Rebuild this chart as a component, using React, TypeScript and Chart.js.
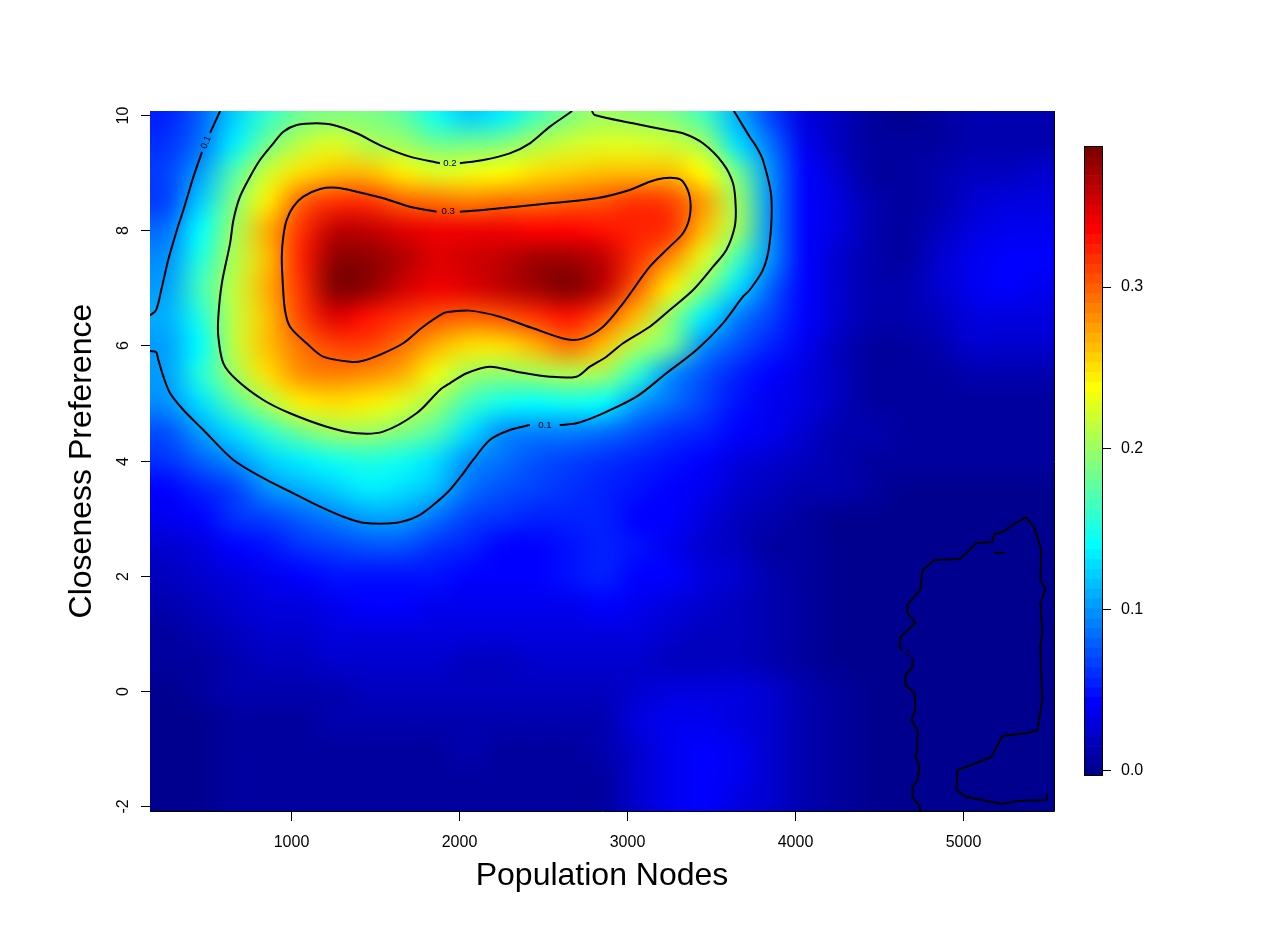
import React, { useEffect, useRef } from "react";
import { Chart, registerables } from "chart.js";

Chart.register(...registerables);

// ---------- data ----------
const populationNodes = [260, 460, 660, 860, 1060, 1260, 1460, 1660, 1860, 2060, 2260, 2460, 2660, 2860, 3060, 3260, 3460, 3660, 3860, 4060, 4260, 4460, 4660, 4860, 5060, 5260, 5460];
const closenessPreference = [10, 9.5, 9, 8.5, 8, 7.5, 7, 6.5, 6, 5.5, 5, 4.5, 4, 3.5, 3, 2.5, 2, 1.5, 1, 0.5, 0, -0.5, -1, -1.5, -2];

// density[row][col]; rows follow closenessPreference, columns follow populationNodes
const density: number[][] = [
  [0.055, 0.078, 0.12, 0.16, 0.18, 0.19, 0.19, 0.175, 0.145, 0.125, 0.135, 0.165, 0.19, 0.2, 0.195, 0.19, 0.165, 0.11, 0.065, 0.03, 0.02, 0.004, 0.003, 0.004, 0.01, 0.01, 0.01],
  [0.06, 0.088, 0.135, 0.185, 0.215, 0.225, 0.21, 0.2, 0.185, 0.18, 0.19, 0.21, 0.22, 0.225, 0.225, 0.22, 0.2, 0.13, 0.085, 0.035, 0.02, 0.005, 0.004, 0.008, 0.012, 0.014, 0.015],
  [0.068, 0.105, 0.17, 0.22, 0.25, 0.265, 0.26, 0.245, 0.225, 0.23, 0.24, 0.25, 0.255, 0.26, 0.265, 0.26, 0.235, 0.185, 0.097, 0.04, 0.025, 0.008, 0.005, 0.01, 0.016, 0.02, 0.022],
  [0.07, 0.125, 0.19, 0.245, 0.3, 0.315, 0.315, 0.3, 0.29, 0.288, 0.29, 0.293, 0.297, 0.303, 0.315, 0.31, 0.275, 0.2, 0.1, 0.045, 0.028, 0.012, 0.006, 0.014, 0.025, 0.03, 0.032],
  [0.085, 0.14, 0.2, 0.268, 0.32, 0.36, 0.36, 0.35, 0.34, 0.34, 0.34, 0.335, 0.335, 0.33, 0.325, 0.315, 0.26, 0.2, 0.1, 0.045, 0.028, 0.014, 0.008, 0.018, 0.03, 0.038, 0.036],
  [0.1, 0.155, 0.21, 0.265, 0.325, 0.38, 0.38, 0.365, 0.35, 0.355, 0.36, 0.37, 0.375, 0.36, 0.32, 0.28, 0.225, 0.165, 0.095, 0.042, 0.025, 0.012, 0.008, 0.022, 0.035, 0.045, 0.04],
  [0.102, 0.165, 0.215, 0.27, 0.32, 0.385, 0.38, 0.355, 0.34, 0.35, 0.36, 0.375, 0.385, 0.36, 0.3, 0.242, 0.19, 0.127, 0.08, 0.04, 0.025, 0.012, 0.01, 0.024, 0.034, 0.042, 0.038],
  [0.11, 0.15, 0.215, 0.265, 0.31, 0.35, 0.33, 0.315, 0.302, 0.297, 0.302, 0.315, 0.33, 0.305, 0.26, 0.195, 0.137, 0.09, 0.065, 0.04, 0.022, 0.01, 0.01, 0.02, 0.028, 0.032, 0.032],
  [0.105, 0.14, 0.215, 0.26, 0.29, 0.31, 0.31, 0.295, 0.27, 0.25, 0.25, 0.27, 0.29, 0.26, 0.21, 0.185, 0.1, 0.075, 0.055, 0.035, 0.02, 0.009, 0.008, 0.015, 0.024, 0.026, 0.026],
  [0.105, 0.15, 0.2, 0.25, 0.28, 0.285, 0.28, 0.27, 0.23, 0.2, 0.195, 0.2, 0.205, 0.2, 0.16, 0.1, 0.075, 0.055, 0.042, 0.03, 0.016, 0.007, 0.006, 0.008, 0.01, 0.012, 0.012],
  [0.097, 0.13, 0.17, 0.205, 0.245, 0.25, 0.245, 0.225, 0.2, 0.165, 0.147, 0.142, 0.147, 0.139, 0.104, 0.085, 0.065, 0.05, 0.038, 0.028, 0.016, 0.006, 0.006, 0.006, 0.006, 0.006, 0.006],
  [0.075, 0.105, 0.13, 0.16, 0.185, 0.2, 0.2, 0.19, 0.17, 0.13, 0.1, 0.093, 0.09, 0.085, 0.072, 0.063, 0.053, 0.045, 0.035, 0.026, 0.015, 0.01, 0.005, 0.005, 0.005, 0.005, 0.005],
  [0.062, 0.08, 0.1, 0.12, 0.135, 0.145, 0.155, 0.145, 0.13, 0.1, 0.085, 0.075, 0.07, 0.06, 0.052, 0.048, 0.04, 0.03, 0.025, 0.016, 0.013, 0.008, 0.004, 0.004, 0.004, 0.004, 0.004],
  [0.04, 0.055, 0.07, 0.095, 0.11, 0.125, 0.135, 0.13, 0.115, 0.088, 0.073, 0.066, 0.062, 0.056, 0.05, 0.045, 0.036, 0.025, 0.02, 0.013, 0.01, 0.004, 0.003, 0.003, 0.003, 0.003, 0.003],
  [0.035, 0.045, 0.058, 0.065, 0.08, 0.09, 0.102, 0.102, 0.085, 0.068, 0.058, 0.052, 0.052, 0.056, 0.045, 0.043, 0.03, 0.02, 0.012, 0.004, 0.002, 0.002, 0.002, 0.002, 0.002, 0.001, 0.001],
  [0.025, 0.032, 0.04, 0.05, 0.06, 0.065, 0.075, 0.075, 0.062, 0.052, 0.045, 0.045, 0.05, 0.056, 0.048, 0.037, 0.025, 0.02, 0.008, 0.004, 0.002, 0.002, 0.002, 0.001, 0.0, -0.001, 0.0],
  [0.016, 0.024, 0.03, 0.038, 0.042, 0.048, 0.05, 0.05, 0.048, 0.042, 0.042, 0.044, 0.046, 0.053, 0.045, 0.04, 0.031, 0.025, 0.01, 0.005, 0.002, 0.002, 0.001, -0.001, -0.0015, -0.0015, 0.0],
  [0.01, 0.018, 0.025, 0.028, 0.033, 0.036, 0.04, 0.04, 0.038, 0.036, 0.034, 0.035, 0.038, 0.042, 0.035, 0.033, 0.027, 0.019, 0.014, 0.008, 0.002, 0.002, 0.0, -0.001, -0.0015, -0.0015, 0.0],
  [0.005, 0.012, 0.02, 0.024, 0.027, 0.03, 0.031, 0.031, 0.029, 0.028, 0.028, 0.03, 0.032, 0.031, 0.028, 0.023, 0.019, 0.016, 0.013, 0.007, 0.002, 0.001, 0.0, -0.001, -0.0015, -0.0015, 0.0],
  [0.004, 0.008, 0.014, 0.018, 0.02, 0.022, 0.023, 0.023, 0.022, 0.02, 0.02, 0.022, 0.025, 0.023, 0.024, 0.02, 0.019, 0.016, 0.013, 0.007, 0.002, 0.001, 0.0003, -0.001, -0.0015, -0.0015, 0.0],
  [0.003, 0.004, 0.01, 0.012, 0.013, 0.015, 0.016, 0.017, 0.017, 0.016, 0.017, 0.018, 0.02, 0.016, 0.023, 0.031, 0.031, 0.029, 0.023, 0.012, 0.004, 0.001, 0.0002, -0.001, -0.0015, -0.0015, 0.0],
  [0.002, 0.003, 0.007, 0.008, 0.009, 0.01, 0.011, 0.012, 0.014, 0.015, 0.014, 0.013, 0.014, 0.014, 0.028, 0.036, 0.038, 0.032, 0.025, 0.013, 0.004, 0.001, 0.0002, -0.001, -0.0012, -0.001, 0.0],
  [0.002, 0.003, 0.006, 0.007, 0.007, 0.007, 0.007, 0.007, 0.007, 0.01, 0.009, 0.007, 0.007, 0.01, 0.027, 0.036, 0.042, 0.037, 0.026, 0.014, 0.004, 0.001, 0.0003, -0.0008, -0.0005, 0.0005, 0.0005],
  [0.002, 0.003, 0.006, 0.006, 0.006, 0.006, 0.006, 0.006, 0.006, 0.006, 0.006, 0.006, 0.006, 0.008, 0.025, 0.035, 0.044, 0.038, 0.025, 0.013, 0.004, 0.001, 0.0003, -0.0005, 0.0005, 0.0006, 0.0005],
  [0.002, 0.003, 0.006, 0.006, 0.006, 0.006, 0.006, 0.006, 0.006, 0.006, 0.006, 0.006, 0.006, 0.008, 0.025, 0.036, 0.04, 0.032, 0.022, 0.012, 0.004, 0.001, 0.0005, -0.0005, -0.0003, -0.0003, 0.0],
];

const xTicks = [1000, 2000, 3000, 4000, 5000];
const yTicks = [-2, 0, 2, 4, 6, 8, 10];
const zTicks = [0, 0.1, 0.2, 0.3];
const zRange = [-0.0031, 0.3874];
const xRange = [160, 5545];
const yRange = [-2.087, 10.07];
const xTitle = "Population Nodes";
const yTitle = "Closeness Preference";

// contour polylines (data coordinates)
const contour01TopA: [number, number][] = [[518, 9.69], [567, 10.0], [578, 10.07]];
const contour01TopB: [number, number][] = [[470, 9.36], [419, 8.93], [359, 8.35], [320, 8.0], [270, 7.5], [230, 7.0], [196, 6.61], [160, 6.52]];
const contour01MainA: [number, number][] = [[160, 5.9], [196, 5.885], [210, 5.746], [240, 5.456], [280, 5.167], [359, 4.877], [478, 4.53], [657, 4.009], [855, 3.662], [1014, 3.431], [1173, 3.198], [1311, 3.024], [1430, 2.92], [1629, 2.92], [1748, 3.024], [1847, 3.228], [1946, 3.488], [2026, 3.778], [2085, 4.009], [2184, 4.356], [2303, 4.53], [2423, 4.617]];
const contour01MainB: [number, number][] = [[2601, 4.617], [2700, 4.646], [2859, 4.82], [3058, 5.108], [3236, 5.515], [3415, 5.919], [3573, 6.383], [3692, 6.845], [3732, 6.961], [3811, 7.309], [3851, 7.772], [3861, 8.582], [3811, 9.219], [3772, 9.45], [3732, 9.624], [3653, 10.0], [3638, 10.07]];
const contour02A: [number, number][] = [[1887, 9.162], [1708, 9.277], [1549, 9.45], [1391, 9.683], [1252, 9.827], [1153, 9.856], [1034, 9.827], [954, 9.711], [895, 9.509], [815, 9.219], [756, 8.929], [696, 8.582], [657, 8.177], [637, 7.772], [588, 7.078], [567, 6.498], [567, 6.15], [597, 5.688], [677, 5.398], [835, 5.051], [994, 4.82], [1212, 4.587], [1391, 4.473], [1549, 4.501], [1748, 4.82], [1887, 5.225], [1946, 5.341], [2046, 5.515], [2184, 5.63], [2343, 5.543], [2542, 5.456], [2700, 5.456], [2780, 5.63], [2879, 5.803], [2978, 6.036], [3137, 6.324], [3256, 6.614], [3395, 6.961], [3514, 7.366], [3593, 7.656], [3643, 8.061], [3649, 8.408], [3633, 8.814], [3573, 9.162], [3454, 9.509], [3335, 9.683], [3236, 9.74], [3037, 9.856], [2809, 10.0], [2792, 10.07]];
const contour02B: [number, number][] = [[2006, 9.162], [2145, 9.219], [2303, 9.335], [2423, 9.509], [2542, 9.798], [2641, 10.0], [2675, 10.07]];
const contour03: [number, number][] = [[1867, 8.322], [1708, 8.408], [1549, 8.554], [1391, 8.669], [1272, 8.738], [1173, 8.716], [1073, 8.582], [1014, 8.408], [974, 8.177], [954, 7.887], [945, 7.54], [951, 7.078], [964, 6.614], [994, 6.324], [1093, 6.036], [1192, 5.803], [1351, 5.716], [1430, 5.734], [1549, 5.862], [1668, 6.036], [1787, 6.324], [1906, 6.557], [1946, 6.585], [2065, 6.603], [2244, 6.498], [2442, 6.296], [2641, 6.105], [2740, 6.122], [2859, 6.324], [2978, 6.73], [3137, 7.366], [3256, 7.714], [3335, 7.946], [3375, 8.235], [3375, 8.582], [3335, 8.842], [3296, 8.901], [3216, 8.901], [3137, 8.842], [3018, 8.698], [2820, 8.554], [2542, 8.467], [2343, 8.408], [2145, 8.351], [2006, 8.322]];
const contour0A: [number, number][] = [[4750, -2.087], [4744, -2.0], [4702, -1.844], [4702, -1.67], [4732, -1.548], [4744, -1.323], [4720, -1.149], [4732, -1.027], [4732, -0.68], [4696, -0.506], [4720, -0.333], [4714, -0.037], [4660, 0.101], [4660, 0.275], [4702, 0.414], [4702, 0.588]];
const contour0B: [number, number][] = [[4643, 0.709], [4625, 0.761], [4631, 0.935], [4672, 1.057], [4720, 1.178], [4672, 1.352], [4672, 1.491], [4750, 1.769], [4762, 2.099], [4833, 2.272], [4982, 2.29], [5030, 2.411], [5083, 2.568], [5178, 2.585], [5190, 2.724], [5238, 2.759], [5297, 2.88], [5379, 3.014], [5428, 2.828], [5470, 2.446], [5464, 1.925], [5494, 1.769], [5464, 1.526], [5476, 1.057], [5464, 0.761], [5470, 0.24], [5476, -0.159], [5446, -0.68], [5387, -0.732], [5238, -0.784], [5172, -1.149], [5083, -1.253], [4970, -1.375], [4964, -1.722], [5024, -1.844], [5238, -1.965], [5321, -1.913], [5500, -1.896], [5506, -1.774]];
const contour0Dash: [number, number][] = [[5190, 2.394], [5250, 2.394]];

// contour labels sit in the gap between two pieces
const contourLabels: { text: string; from: [number, number]; to: [number, number] }[] = [
  { text: "0.1", from: [470, 9.36], to: [518, 9.69] },
  { text: "0.2", from: [1887, 9.162], to: [2006, 9.162] },
  { text: "0.3", from: [1867, 8.322], to: [2006, 8.322] },
  { text: "0.1", from: [2423, 4.617], to: [2601, 4.617] },
  { text: "0", from: [4643, 0.709], to: [4702, 0.588] },
];

const contourSets = [
  { name: "0.1 a", pts: contour01TopA, smooth: true },
  { name: "0.1 b", pts: contour01TopB, smooth: true },
  { name: "0.1 c", pts: contour01MainA, smooth: true },
  { name: "0.1 d", pts: contour01MainB, smooth: true },
  { name: "0.2 a", pts: contour02A, smooth: true },
  { name: "0.2 b", pts: contour02B, smooth: true },
  { name: "0.3", pts: contour03, smooth: true },
  { name: "0 a", pts: contour0A, smooth: false },
  { name: "0 b", pts: contour0B, smooth: false },
  { name: "0 c", pts: contour0Dash, smooth: false },
];

// ---------- style ----------
const FONT = "'Liberation Sans', Arial, Helvetica, sans-serif";
const NCOL = 64;

function jet(k: number): [number, number, number] {
  const c = (v: number) => Math.round(255 * Math.max(0, Math.min(1, v)));
  return [
    c(Math.min((k - 23) / 16, (71 - k) / 16)),
    c(Math.min((k - 7) / 16, (55 - k) / 16)),
    c(Math.min((k + 9) / 16, (39 - k) / 16)),
  ];
}
function binOf(v: number): number {
  const t = (v - zRange[0]) / (zRange[1] - zRange[0]);
  return Math.max(0, Math.min(NCOL - 1, Math.floor(t * NCOL)));
}
const rgb = (c: [number, number, number]) => `rgb(${c[0]},${c[1]},${c[2]})`;

export default function App() {
  const mainRef = useRef<HTMLCanvasElement>(null);
  const barRef = useRef<HTMLCanvasElement>(null);

  useEffect(() => {
    const heatmapPlugin = {
      id: "heatmap",
      beforeDatasetsDraw(chart: any) {
        const { ctx, chartArea, scales } = chart;
        const nx = populationNodes.length;
        const ny = closenessPreference.length;
        const off = document.createElement("canvas");
        off.width = nx + 2;
        off.height = ny + 2;
        const octx = off.getContext("2d")!;
        const img = octx.createImageData(nx + 2, ny + 2);
        for (let j = 0; j < ny + 2; j++) {
          for (let i = 0; i < nx + 2; i++) {
            const jj = Math.max(0, Math.min(ny - 1, j - 1));
            const ii = Math.max(0, Math.min(nx - 1, i - 1));
            const col = jet(binOf(density[jj][ii]));
            const p = (j * (nx + 2) + i) * 4;
            img.data[p] = col[0];
            img.data[p + 1] = col[1];
            img.data[p + 2] = col[2];
            img.data[p + 3] = 255;
          }
        }
        octx.putImageData(img, 0, 0);
        const hx = (populationNodes[1] - populationNodes[0]) / 2;
        const hy = (closenessPreference[0] - closenessPreference[1]) / 2;
        const x0 = scales.x.getPixelForValue(populationNodes[0] - hx);
        const x1 = scales.x.getPixelForValue(populationNodes[nx - 1] + hx);
        const y0 = scales.y.getPixelForValue(closenessPreference[0] + hy);
        const y1 = scales.y.getPixelForValue(closenessPreference[ny - 1] - hy);
        ctx.save();
        ctx.beginPath();
        ctx.rect(chartArea.left, chartArea.top, chartArea.right - chartArea.left, chartArea.bottom - chartArea.top);
        ctx.clip();
        ctx.imageSmoothingEnabled = true;
        ctx.imageSmoothingQuality = "high";
        ctx.drawImage(off, 1, 1, nx, ny, x0, y0, x1 - x0, y1 - y0);
        ctx.restore();
      },
      afterDatasetsDraw(chart: any) {
        const { ctx, scales } = chart;
        ctx.save();
        ctx.fillStyle = "#000";
        ctx.font = `9.6px ${FONT}`;
        ctx.textAlign = "center";
        ctx.textBaseline = "middle";
        for (const lab of contourLabels) {
          let ax = scales.x.getPixelForValue(lab.from[0]);
          let ay = scales.y.getPixelForValue(lab.from[1]);
          let bx = scales.x.getPixelForValue(lab.to[0]);
          let by = scales.y.getPixelForValue(lab.to[1]);
          if (bx < ax) { [ax, bx] = [bx, ax]; [ay, by] = [by, ay]; }
          const ang = Math.atan2(by - ay, bx - ax);
          ctx.save();
          ctx.translate((ax + bx) / 2, (ay + by) / 2);
          ctx.rotate(ang);
          ctx.fillText(lab.text, 0, 0);
          ctx.restore();
        }
        ctx.restore();
      },
      afterDraw(chart: any) {
        const { ctx, chartArea, scales } = chart;
        const { left, right, top, bottom } = chartArea;
        ctx.save();
        ctx.strokeStyle = "#000";
        ctx.lineWidth = 1;
        ctx.beginPath();
        ctx.moveTo(left, bottom + 0.5);
        ctx.lineTo(right + 0.5, bottom + 0.5);
        ctx.moveTo(right + 0.5, top);
        ctx.lineTo(right + 0.5, bottom + 0.5);
        ctx.stroke();
        // x ticks
        ctx.fillStyle = "#000";
        ctx.font = `16px ${FONT}`;
        ctx.textAlign = "center";
        ctx.textBaseline = "alphabetic";
        for (const v of xTicks) {
          const px = Math.round(scales.x.getPixelForValue(v)) + 0.5;
          ctx.beginPath();
          ctx.moveTo(px, bottom + 1);
          ctx.lineTo(px, bottom + 10);
          ctx.stroke();
          ctx.fillText(String(v), px, 847);
        }
        // y ticks (rotated labels)
        for (const v of yTicks) {
          const py = Math.round(scales.y.getPixelForValue(v)) + 0.5;
          ctx.beginPath();
          ctx.moveTo(left - 9, py);
          ctx.lineTo(left, py);
          ctx.stroke();
          ctx.save();
          ctx.translate(127.5, py);
          ctx.rotate(-Math.PI / 2);
          ctx.fillText(String(v), 0, 0);
          ctx.restore();
        }
        // titles
        ctx.font = `32px ${FONT}`;
        ctx.fillText(xTitle, (left + right) / 2, 885);
        ctx.save();
        ctx.translate(91, (top + bottom) / 2);
        ctx.rotate(-Math.PI / 2);
        ctx.fillText(yTitle, 0, 0);
        ctx.restore();
        ctx.restore();
      },
    };

    const main = new Chart(mainRef.current!, {
      type: "scatter",
      data: {
        datasets: contourSets.map((c) => ({
          label: c.name,
          data: c.pts.map(([x, y]) => ({ x, y })),
          showLine: true,
          pointRadius: 0,
          borderColor: "#000",
          borderWidth: 2,
          tension: c.smooth ? 0.3 : 0,
          fill: false,
        })),
      },
      options: {
        responsive: false,
        devicePixelRatio: 1,
        animation: false,
        events: [],
        layout: { padding: { left: 150, top: 111, right: 232, bottom: 139 } },
        plugins: { legend: { display: false }, tooltip: { enabled: false } },
        scales: {
          x: { type: "linear", display: false, min: xRange[0], max: xRange[1] },
          y: { type: "linear", display: false, min: yRange[0], max: yRange[1] },
        },
      },
      plugins: [heatmapPlugin],
    } as any);

    const barBorder = {
      id: "barBorder",
      afterDraw(chart: any) {
        const { ctx, chartArea } = chart;
        ctx.save();
        ctx.strokeStyle = "#000";
        ctx.lineWidth = 1;
        ctx.strokeRect(chartArea.left + 0.5, chartArea.top + 0.5, chartArea.right - chartArea.left - 1, chartArea.bottom - chartArea.top - 1);
        ctx.restore();
      },
    };

    const step = (zRange[1] - zRange[0]) / NCOL;
    const bar = new Chart(barRef.current!, {
      type: "bar",
      data: {
        labels: [""],
        datasets: Array.from({ length: NCOL }, (_, k) => ({
          label: `c${k}`,
          data: [[zRange[0] + k * step, zRange[0] + (k + 1) * step]],
          backgroundColor: rgb(jet(k)),
          borderWidth: 0,
          barPercentage: 1,
          categoryPercentage: 1,
          grouped: false,
        })),
      },
      options: {
        responsive: false,
        devicePixelRatio: 1,
        animation: false,
        events: [],
        layout: { padding: { left: 1084, top: 146, right: 123, bottom: 174 } },
        plugins: { legend: { display: false }, tooltip: { enabled: false } },
        scales: {
          x: { display: false },
          y: {
            position: "right",
            min: zRange[0],
            max: zRange[1],
            afterBuildTicks: (s: any) => { s.ticks = zTicks.map((v) => ({ value: v })); },
            afterFit: (s: any) => { s.width = 60; },
            ticks: { color: "#000", font: { family: FONT, size: 16 }, padding: 10, callback: (v: any) => Number(v).toFixed(1) },
            grid: { drawOnChartArea: false, drawTicks: true, tickLength: 8, color: "#000" },
            border: { display: false },
          },
        },
      },
      plugins: [barBorder],
    } as any);

    return () => {
      main.destroy();
      bar.destroy();
    };
  }, []);

  return (
    <div style={{ position: "absolute", left: 0, top: 0, width: 1286, height: 950, background: "#fff" }}>
      <canvas ref={mainRef} width={1286} height={950} style={{ position: "absolute", left: 0, top: 0 }} />
      <canvas ref={barRef} width={1286} height={950} style={{ position: "absolute", left: 0, top: 0 }} />
    </div>
  );
}
